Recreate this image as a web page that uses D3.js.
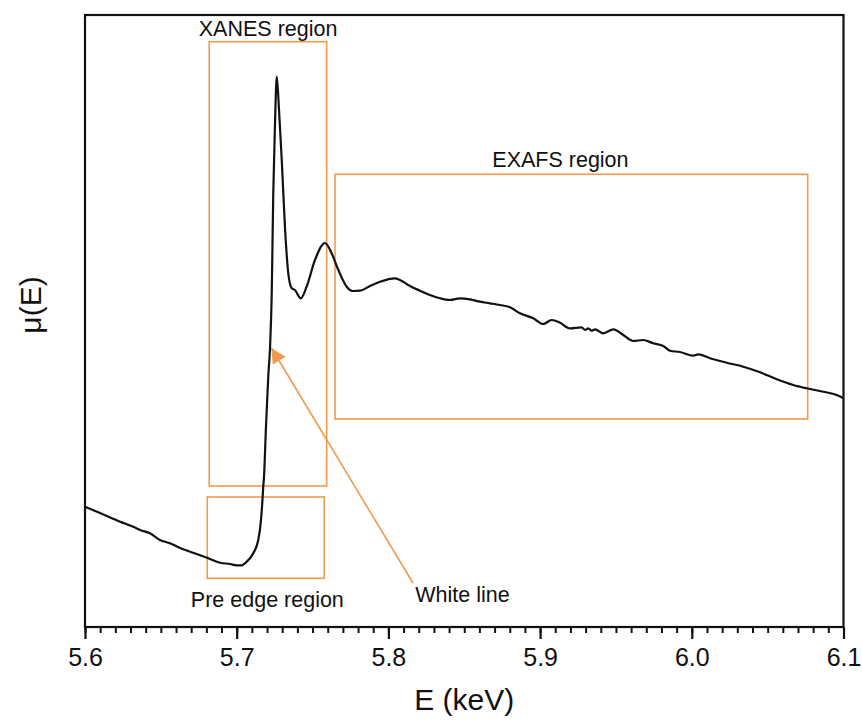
<!DOCTYPE html>
<html>
<head>
<meta charset="utf-8">
<script src="https://cdn.jsdelivr.net/npm/d3@7"></script>
<style>
  body { margin: 0; background: #fff; }
  text { font-family: "Liberation Sans", Arial, sans-serif; fill: #111; }
</style>
</head>
<body>
<script>
// spectrum, E in keV, mu(E) in arbitrary units
var energy = [5.6000, 5.6099, 5.6231, 5.6318, 5.6363, 5.6428, 5.6494, 5.6560, 5.6648, 5.6736,
  5.6813, 5.6890, 5.6956, 5.7000, 5.7033, 5.7066, 5.7109, 5.7142, 5.7158, 5.7167,
  5.7175, 5.7180, 5.7193, 5.7208, 5.7220, 5.7231, 5.7241, 5.7252, 5.7264, 5.7279,
  5.7297, 5.7318, 5.7340, 5.7363, 5.7384, 5.7422, 5.7461, 5.7516, 5.7582, 5.7626,
  5.7670, 5.7725, 5.7769, 5.7813, 5.7879, 5.7945, 5.8044, 5.8076, 5.8142, 5.8208,
  5.8274, 5.8340, 5.8406, 5.8472, 5.8538, 5.8604, 5.8670, 5.8736, 5.8802, 5.8868,
  5.8955, 5.9021, 5.9076, 5.9131, 5.9197, 5.9274, 5.9296, 5.9318, 5.9340, 5.9362,
  5.9417, 5.9483, 5.9548, 5.9614, 5.9680, 5.9746, 5.9812, 5.9856, 5.9922, 6.0010,
  6.0043, 6.0120, 6.0230, 6.0340, 6.0450, 6.0560, 6.0669, 6.0757, 6.0867, 6.0955,
  6.1000];
var mu = [1.203, 1.140, 1.053, 1.003, 0.970, 0.937, 0.870, 0.837, 0.777, 0.730,
  0.687, 0.643, 0.630, 0.617, 0.617, 0.653, 0.737, 0.870, 1.037, 1.203,
  1.403, 1.503, 2.003, 2.503, 2.803, 3.337, 4.337, 5.003, 5.503, 5.170,
  4.670, 4.003, 3.537, 3.387, 3.370, 3.287, 3.403, 3.670, 3.840, 3.737,
  3.570, 3.403, 3.360, 3.363, 3.410, 3.453, 3.487, 3.470, 3.410, 3.363,
  3.320, 3.287, 3.270, 3.287, 3.277, 3.253, 3.237, 3.220, 3.197, 3.137,
  3.087, 3.030, 3.070, 3.043, 2.987, 2.997, 2.970, 2.987, 2.963, 2.977,
  2.937, 2.977, 2.920, 2.860, 2.870, 2.837, 2.810, 2.763, 2.750, 2.713,
  2.727, 2.687, 2.643, 2.603, 2.547, 2.477, 2.420, 2.387, 2.353, 2.320,
  2.287];

var xTicks = [5.6, 5.7, 5.8, 5.9, 6.0, 6.1];

// annotation boxes: [E0, E1, mu0, mu1]
var boxNames = ["XANES region", "EXAFS region", "Pre edge region"];
var boxExtents = [[5.6819, 5.7593, 1.410, 5.853],
                  [5.7648, 6.0764, 2.080, 4.527],
                  [5.6806, 5.7577, 0.487, 1.300]];
// label anchor [E, mu] (text centre, baseline)
var boxLabelPos = [[5.7207, 5.91], [5.9134, 4.60], [5.7202, 0.20]];

// white line arrow: tail -> head
var arrowLabel = "White line";
var arrowFrom = [5.8162, 0.44];
var arrowTo = [5.7229, 2.79];
var arrowLabelPos = [5.8488, 0.253];

// set the dimensions and margins of the graph
var margin = {top: 15, right: 18.5, bottom: 93, left: 85},
    width = 862 - margin.left - margin.right,
    height = 720 - margin.top - margin.bottom;

var orange = "#ef9a4f";

var x = d3.scaleLinear().domain([5.6, 6.1]).range([0, width]);
var y = d3.scaleLinear().domain([0, 6.12]).range([height, 0]);

var svg = d3.select("body").append("svg")
    .attr("width", 862)
    .attr("height", 720)
  .append("g")
    .attr("transform", "translate(" + margin.left + "," + margin.top + ")");

// boxes
boxExtents.forEach(function(b, i) {
  svg.append("rect")
    .attr("x", x(b[0]))
    .attr("y", y(b[3]))
    .attr("width", x(b[1]) - x(b[0]))
    .attr("height", y(b[2]) - y(b[3]))
    .attr("fill", "none")
    .attr("stroke", orange)
    .attr("stroke-width", 1.6);

  svg.append("text")
    .attr("x", x(boxLabelPos[i][0]))
    .attr("y", y(boxLabelPos[i][1]))
    .attr("text-anchor", "middle")
    .style("font-size", "21.5px")
    .text(boxNames[i]);
});

// arrow
svg.append("defs").append("marker")
    .attr("id", "head")
    .attr("viewBox", "0 0 10 10")
    .attr("refX", 10).attr("refY", 5)
    .attr("markerWidth", 15).attr("markerHeight", 15)
    .attr("markerUnits", "userSpaceOnUse")
    .attr("orient", "auto")
  .append("path")
    .attr("d", "M0,0L10,5L0,10z")
    .attr("fill", orange);

svg.append("line")
    .attr("x1", x(arrowFrom[0])).attr("y1", y(arrowFrom[1]))
    .attr("x2", x(arrowTo[0])).attr("y2", y(arrowTo[1]))
    .attr("stroke", orange)
    .attr("stroke-width", 1.6)
    .attr("marker-end", "url(#head)");

svg.append("text")
    .attr("x", x(arrowLabelPos[0]))
    .attr("y", y(arrowLabelPos[1]))
    .attr("text-anchor", "middle")
    .style("font-size", "21.5px")
    .text(arrowLabel);

// the spectrum
var line = d3.line()
    .x(function(d, i) { return x(energy[i]); })
    .y(function(d) { return y(d); })
    .curve(d3.curveMonotoneX);

svg.append("path")
    .datum(mu)
    .attr("d", line)
    .attr("fill", "none")
    .attr("stroke", "#111")
    .attr("stroke-width", 2.2)
    .attr("stroke-linejoin", "round");

// frame
svg.append("rect")
    .attr("width", width)
    .attr("height", height)
    .attr("fill", "none")
    .attr("stroke", "#111")
    .attr("stroke-width", 2.2);

// x axis: minor ticks then major ticks
svg.append("g")
    .attr("transform", "translate(0," + height + ")")
    .call(d3.axisBottom(x).ticks(50).tickSize(6).tickFormat(""))
    .call(function(g) { g.select(".domain").remove(); })
    .selectAll("line").attr("stroke", "#111").attr("stroke-width", 2);

var xAxis = svg.append("g")
    .attr("transform", "translate(0," + height + ")")
    .call(d3.axisBottom(x).tickValues(xTicks).tickSize(12).tickPadding(9)
      .tickFormat(d3.format(".1f")));
xAxis.select(".domain").remove();
xAxis.selectAll("line").attr("stroke", "#111").attr("stroke-width", 2.2);
xAxis.selectAll("text")
    .style("font-size", "25px")
    .style("font-family", "'Liberation Sans', Arial, sans-serif")
    .attr("fill", "#111");

// axis titles
svg.append("text")
    .attr("x", width / 2)
    .attr("y", height + 83)
    .attr("text-anchor", "middle")
    .style("font-size", "30px")
    .text("E (keV)");

svg.append("text")
    .attr("transform", "translate(" + (-44) + "," + (y(3.22)) + ") rotate(-90)")
    .attr("text-anchor", "middle")
    .style("font-size", "30px")
    .text("μ(E)");
</script>
</body>
</html>
